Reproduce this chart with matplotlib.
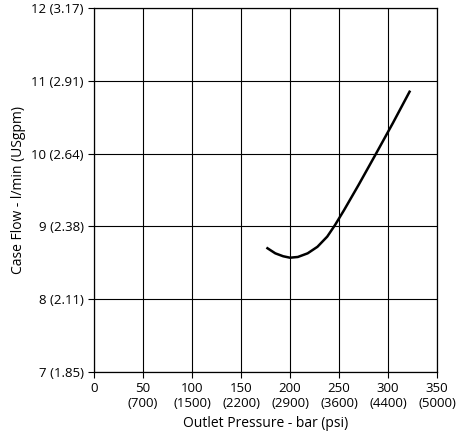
import matplotlib
matplotlib.use("Agg")
import matplotlib.pyplot as plt
import numpy as np

xticks = [0, 50, 100, 150, 200, 250, 300, 350]
xlabels = ["0", "50\n(700)", "100\n(1500)", "150\n(2200)", "200\n(2900)", "250\n(3600)", "300\n(4400)", "350\n(5000)"]
yticks = [7, 8, 9, 10, 11, 12]
ylabels = ["7 (1.85)", "8 (2.11)", "9 (2.38)", "10 (2.64)", "11 (2.91)", "12 (3.17)"]
px = [177, 185, 193, 200, 208, 218, 228, 238, 246, 255, 270, 287, 305, 322]
py = [8.70, 8.63, 8.59, 8.57, 8.58, 8.63, 8.72, 8.86, 9.02, 9.22, 9.57, 9.98, 10.42, 10.85]

plt.rcParams['font.family'] = ['Open Sans', 'DejaVu Sans']
fig = plt.figure(figsize=(4.7, 4.43), dpi=100)
ax = fig.add_axes([94/470, 1-372/443, 343/470, 364/443])
ax.plot(px, py, color='black', lw=1.8)
ax.set_xlim(0, 350)
ax.set_ylim(7, 12)
ax.set_xticks(xticks)
ax.set_xticklabels(xlabels, fontsize=9.5)
ax.set_yticks(yticks)
ax.set_yticklabels(ylabels, fontsize=9.5)
ax.grid(True, color='black', lw=0.8)
for s in ax.spines.values():
    s.set_linewidth(0.9)
ax.tick_params(length=4, width=0.8)
ax.set_xlabel("Outlet Pressure - bar (psi)", fontsize=10)
ax.set_ylabel("Case Flow - l/min (USgpm)", fontsize=10)
fig.savefig("out.png", dpi=100)
